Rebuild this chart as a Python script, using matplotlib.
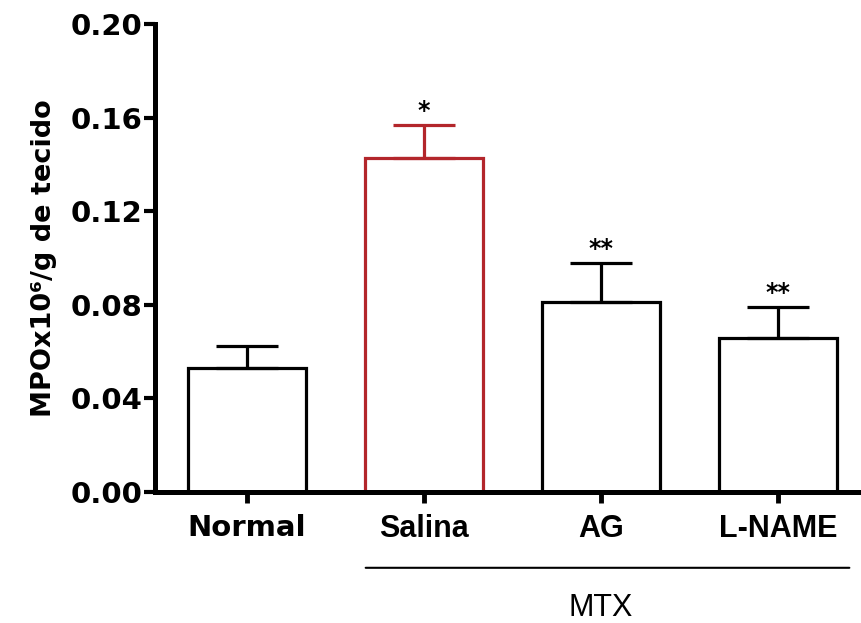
import matplotlib
matplotlib.use("Agg")
import matplotlib.pyplot as plt

groups = ["Normal", "Salina", "AG", "L-NAME"]
means = [0.053, 0.1427, 0.0812, 0.0658]
sem = [0.0094, 0.0143, 0.0167, 0.0132]
stars = ["", "*", "**", "**"]
yticks = [0.00, 0.04, 0.08, 0.12, 0.16, 0.20]

red = "#b3262b"
edge = ["black", red, "black", "black"]

fig = plt.figure(figsize=(8.61, 6.23), dpi=100)
ax = fig.add_axes([0.18, 0.2103, 0.82, 0.7512])

x = list(range(len(groups)))
ax.bar(x, means, width=0.67, color="white", edgecolor=edge, linewidth=2.3, zorder=2)
for i in x:
    ax.errorbar(i, means[i], yerr=[[0], [sem[i]]], fmt="none", ecolor=edge[i],
                elinewidth=2.3, capsize=22, capthick=2.3, zorder=3)
    if stars[i]:
        ax.text(i, means[i] + sem[i] + 0.0008, stars[i], ha="center", va="bottom",
                fontsize=17, fontweight="bold", family="DejaVu Sans")

ax.set_xlim(-0.52, 3.47)
ax.set_ylim(0, 0.20)
ax.set_yticks(yticks)
ax.set_yticklabels([f"{v:.2f}" for v in yticks], fontsize=21, fontweight="bold",
                   family="DejaVu Sans")
ax.set_xticks(x)
ax.set_xticklabels(groups, fontsize=22, fontweight="bold", family="Liberation Sans")
ax.get_xticklabels()[0].set_family("DejaVu Sans")
ax.get_xticklabels()[0].set_fontsize(21)

for s in ["top", "right"]:
    ax.spines[s].set_visible(False)
for s in ["left", "bottom"]:
    ax.spines[s].set_linewidth(3.6)
ax.tick_params(axis="y", length=8, width=3, pad=1)
ax.tick_params(axis="x", length=8, width=3.5, pad=8)

ax.set_ylabel("MPOx10\u2076/g de tecido", fontsize=19.5, fontweight="bold",
              family="DejaVu Sans", labelpad=10)

# MTX bracket under the treated groups
ax.annotate("", xy=(0.655, -0.162), xytext=(3.42, -0.162),
            xycoords=("data", "axes fraction"), textcoords=("data", "axes fraction"),
            arrowprops=dict(arrowstyle="-", lw=1.5, color="black"))
ax.annotate("MTX", xy=(2, -0.248), xycoords=("data", "axes fraction"),
            ha="center", va="center", fontsize=22, family="Liberation Sans")

fig.savefig("out.png", dpi=100)
